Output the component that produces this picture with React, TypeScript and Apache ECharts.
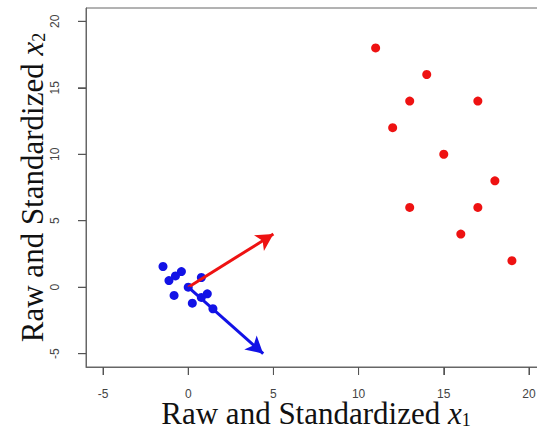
import React, { useEffect, useRef } from "react";
import * as echarts from "echarts";

// Raw data (red) and standardized data (blue)
const rawX = [11, 14, 13, 17, 12, 15, 18, 13, 17, 16, 19];
const rawY = [18, 16, 14, 14, 12, 10, 8, 6, 6, 4, 2];
const stdX = [-1.48, -0.4, -0.75, -1.13, 0.77, 0, -0.83, 1.12, 0.77, 0.24, 1.45];
const stdY = [1.56, 1.18, 0.85, 0.5, 0.73, 0, -0.62, -0.5, -0.77, -1.2, -1.62];

// Arrows (start / end)
const arrowStart = [0, 0];
const redArrowEnd = [5, 4];
const blueArrowEnd = [4.4, -5];

const tickValues = [-5, 0, 5, 10, 15, 20];
const axisMin = -6;
const axisMax = 21;

const RED = "#ee1212";
const BLUE = "#1212e6";
const AXIS_GREY = "#555";
const TICK_LEN = 8;

export default function App() {
  const ref = useRef<HTMLDivElement>(null);
  useEffect(() => {
    if (!ref.current) return;
    const chart = echarts.init(ref.current, null, { renderer: "svg" });
    const serif = "Liberation Serif";
    const titleRich = {
      a: { fontFamily: serif, fontSize: 31, color: "#111", lineHeight: 32 },
      i: { fontFamily: serif, fontSize: 31, fontStyle: "italic", color: "#111", lineHeight: 32 },
      s: { fontFamily: serif, fontSize: 18, color: "#111", lineHeight: 12, verticalAlign: "bottom" },
    };
    const labelCommon = {
      customValues: tickValues,
      color: "#444",
      fontSize: 12,
      fontFamily: "Liberation Sans",
    };
    const tickCommon = {
      show: true,
      inside: false,
      length: TICK_LEN,
      customValues: tickValues,
      lineStyle: { color: AXIS_GREY, width: 1 },
    };
    const lineCommon = { show: true, onZero: false, lineStyle: { color: "#666", width: 1 } };
    chart.setOption({
      animation: false,
      backgroundColor: "#fff",
      grid: {
        left: 86,
        top: 8,
        width: 460,
        height: 359,
        containLabel: false,
        outerBoundsMode: "none",
        show: true,
        borderColor: "#666",
        borderWidth: 1,
        backgroundColor: "transparent",
      },
      xAxis: {
        type: "value",
        min: axisMin,
        max: axisMax,
        splitLine: { show: false },
        axisLine: lineCommon,
        axisTick: tickCommon,
        axisLabel: { ...labelCommon, margin: 21 },
        name: "{a|Raw and Standardized }{i|x}{s|1}",
        nameLocation: "middle",
        nameGap: 30,
        nameMoveOverlap: false,
        nameTextStyle: { rich: titleRich },
      },
      yAxis: {
        type: "value",
        min: axisMin,
        max: axisMax,
        splitLine: { show: false },
        axisLine: lineCommon,
        axisTick: tickCommon,
        axisLabel: { ...labelCommon, rotate: 90, margin: 25 },
        name: "{a|Raw and Standardized }{i|x}{s|2}",
        nameLocation: "middle",
        nameGap: 38,
        nameMoveOverlap: false,
        nameRotate: 90,
        nameTextStyle: { rich: titleRich },
      },
      series: [
        {
          type: "scatter",
          data: rawX.map((x, i) => [x, rawY[i]]),
          symbolSize: 9,
          itemStyle: { color: RED, opacity: 1 },
        },
        {
          type: "scatter",
          data: stdX.map((x, i) => [x, stdY[i]]),
          symbolSize: 9,
          itemStyle: { color: BLUE, opacity: 1 },
        },
        {
          type: "scatter",
          data: [],
          markLine: {
            silent: true,
            symbol: ["none", "arrow"],
            symbolSize: [14, 17],
            label: { show: false },
            emphasis: { disabled: true },
            data: [
              [
                { coord: arrowStart, lineStyle: { color: RED, width: 3, type: "solid" } },
                { coord: redArrowEnd },
              ],
              [
                { coord: arrowStart, lineStyle: { color: BLUE, width: 3, type: "solid" } },
                { coord: blueArrowEnd },
              ],
            ],
          },
        },
      ],
    });

    // Outward tick marks placed through the chart's own scales (drawn once after render)
    let drawn = false;
    const drawTicks = () => {
      if (drawn) return;
      drawn = true;
      const ticks: any[] = [];
      tickValues.forEach((v, k) => {
        const pb = chart.convertToPixel({ gridIndex: 0 }, [v, axisMin]) as number[];
        const pl = chart.convertToPixel({ gridIndex: 0 }, [axisMin, v]) as number[];
        if (pb && isFinite(pb[0])) {
          ticks.push({
            type: "line",
            id: "tx" + k,
            z: 100,
            silent: true,
            shape: { x1: pb[0], y1: pb[1], x2: pb[0], y2: pb[1] + TICK_LEN },
            style: { stroke: AXIS_GREY, lineWidth: 1 },
          });
        }
        if (pl && isFinite(pl[1])) {
          ticks.push({
            type: "line",
            id: "ty" + k,
            z: 100,
            silent: true,
            shape: { x1: pl[0], y1: pl[1], x2: pl[0] - TICK_LEN, y2: pl[1] },
            style: { stroke: AXIS_GREY, lineWidth: 1 },
          });
        }
      });
      chart.setOption({ graphic: { elements: ticks } });
    };
    chart.on("finished", drawTicks);
    drawTicks();

    return () => chart.dispose();
  }, []);
  return (
    <div
      ref={ref}
      style={{ position: "fixed", left: 0, top: 0, width: 537, height: 435, background: "#fff" }}
    />
  );
}
